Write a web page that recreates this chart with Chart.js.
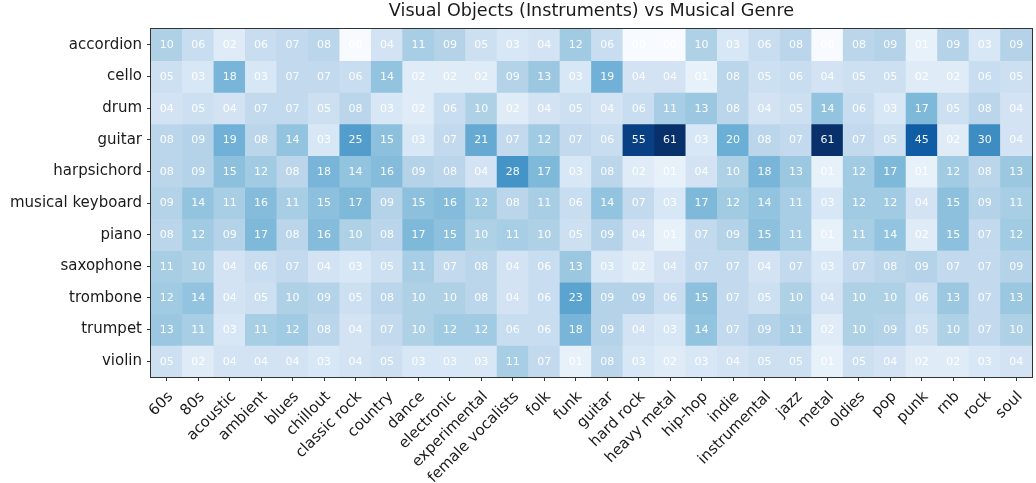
<!DOCTYPE html>
<html><head><meta charset="utf-8">
<script src="https://cdn.jsdelivr.net/npm/chart.js@4/dist/chart.umd.min.js"></script>
<style>html,body{margin:0;padding:0;background:#fff}#wrap{width:1036px;height:483px;position:relative}</style>
</head><body><div id="wrap"><canvas id="c"></canvas></div>
<script>
const chartTitle = 'Visual Objects (Instruments) vs Musical Genre';
const genres = ['60s','80s','acoustic','ambient','blues','chillout','classic rock','country','dance','electronic','experimental','female vocalists','folk','funk','guitar','hard rock','heavy metal','hip-hop','indie','instrumental','jazz','metal','oldies','pop','punk','rnb','rock','soul'];
const instruments = ['accordion','cello','drum','guitar','harpsichord','musical keyboard','piano','saxophone','trombone','trumpet','violin'];

const accordion       = [10,6,2,6,7,8,0,4,11,9,5,3,4,12,6,0,0,10,3,6,8,0,8,9,1,9,3,9];
const cello           = [5,3,18,3,7,7,6,14,2,2,2,9,13,3,19,4,4,1,8,5,6,4,5,5,2,2,6,5];
const drum            = [4,5,4,7,7,5,8,3,2,6,10,2,4,5,4,6,11,13,8,4,5,14,6,3,17,5,8,4];
const guitar          = [8,9,19,8,14,3,25,15,3,7,21,7,12,7,6,55,61,3,20,8,7,61,7,5,45,2,30,4];
const harpsichord     = [8,9,15,12,8,18,14,16,9,8,4,28,17,3,8,2,1,4,10,18,13,1,12,17,1,12,8,13];
const musicalKeyboard = [9,14,11,16,11,15,17,9,15,16,12,8,11,6,14,7,3,17,12,14,11,3,12,12,4,15,9,11];
const piano           = [8,12,9,17,8,16,10,8,17,15,10,11,10,5,9,4,1,7,9,15,11,1,11,14,2,15,7,12];
const saxophone       = [11,10,4,6,7,4,3,5,11,7,8,4,6,13,3,2,4,7,7,4,7,3,7,8,9,7,7,9];
const trombone        = [12,14,4,5,10,9,5,8,10,10,8,4,6,23,9,9,6,15,7,5,10,4,10,10,6,13,7,13];
const trumpet         = [13,11,3,11,12,8,4,7,10,12,12,6,6,18,9,4,3,14,7,9,11,2,10,9,5,10,7,10];
const violin          = [5,2,4,4,4,3,4,5,3,3,3,11,7,1,8,3,2,3,4,5,5,1,5,4,2,2,3,4];

const values = [accordion, cello, drum, guitar, harpsichord, musicalKeyboard, piano, saxophone, trombone, trumpet, violin];

const BLUES = ['#f7fbff','#deebf7','#c6dbef','#9ecae1','#6baed6','#4292c6','#2171b5','#08519c','#08306b'];
function hex(h){return [parseInt(h.slice(1,3),16),parseInt(h.slice(3,5),16),parseInt(h.slice(5,7),16)];}
function blues(t){
  t = Math.max(0, Math.min(1, t));
  const p = t * (BLUES.length - 1);
  const i = Math.min(BLUES.length - 2, Math.floor(p));
  const f = p - i;
  const a = hex(BLUES[i]), b = hex(BLUES[i+1]);
  const c = a.map((v,k)=>Math.round(v + (b[k]-v)*f));
  return 'rgb(' + c.join(',') + ')';
}
const vmax = Math.max(...values.flat());
function cellColor(v){ return blues(Math.pow(v / vmax, 0.62)); }

const FONT = 'DejaVu Sans';
const AXIS_COLOR = '#333333';

const datasets = instruments.map((name, i) => ({
  label: name,
  data: genres.map(() => 1),
  cellValues: values[i],
  backgroundColor: values[i].map(cellColor),
  borderWidth: 0,
  barPercentage: 1,
  categoryPercentage: 1,
  stack: 'heat'
}));

const heatPlugin = {
  id: 'heatPlugin',
  afterDatasetsDraw(chart) {
    const ctx = chart.ctx;
    ctx.save();
    ctx.font = '11px "' + FONT + '"';
    ctx.fillStyle = 'rgba(255,255,255,0.95)';
    ctx.textAlign = 'center';
    ctx.textBaseline = 'middle';
    chart.data.datasets.forEach((ds, di) => {
      const meta = chart.getDatasetMeta(di);
      meta.data.forEach((el, j) => {
        const v = ds.cellValues[j];
        const cy = (el.y + el.base) / 2;
        ctx.fillText(String(v).padStart(2, '0'), el.x, cy + 0.5);
      });
    });
    const a = chart.chartArea;
    ctx.strokeStyle = AXIS_COLOR;
    ctx.lineWidth = 1;
    ctx.strokeRect(Math.round(a.left) - 0.5, Math.round(a.top) - 0.5, Math.round(a.right - a.left) + 1, Math.round(a.bottom - a.top) + 1);
    ctx.restore();
  }
};

new Chart(document.getElementById('c'), {
  type: 'bar',
  data: { labels: genres, datasets },
  options: {
    responsive: true,
    maintainAspectRatio: false,
    animation: false,
    layout: { padding: { left: 0, right: 3, top: 0, bottom: 0 } },
    plugins: {
      legend: { display: false },
      tooltip: { enabled: false },
      title: {
        display: true,
        text: chartTitle,
        fullSize: false,
        color: '#1a1a1a',
        font: { family: FONT, size: 17.6, weight: 'normal', lineHeight: 1.2 },
        padding: { top: 1, bottom: 7 }
      }
    },
    scales: {
      x: {
        type: 'category',
        stacked: true,
        afterFit(axis) { axis.height = 106; },
        grid: { display: true, drawOnChartArea: false, offset: false, tickLength: 4, color: AXIS_COLOR, tickWidth: 1 },
        border: { display: true, color: AXIS_COLOR, width: 1 },
        ticks: { autoSkip: false, maxRotation: 45, minRotation: 45, padding: 7, labelOffset: 4, color: '#1a1a1a', font: { family: FONT, size: 15 } }
      },
      y: {
        type: 'linear',
        stacked: true,
        min: 0,
        max: instruments.length,
        reverse: true,
        afterFit(axis) { axis.width = 151; },
        afterBuildTicks(axis) { axis.ticks = instruments.map((_, i) => ({ value: i + 0.5 })); },
        grid: { display: true, drawOnChartArea: false, tickLength: 4, color: AXIS_COLOR, tickWidth: 1 },
        border: { display: true, color: AXIS_COLOR, width: 1 },
        ticks: {
          padding: 5,
          color: '#1a1a1a',
          font: { family: FONT, size: 15 },
          callback: (v) => instruments[Math.floor(v)]
        }
      }
    }
  },
  plugins: [heatPlugin]
});
</script>
</body></html>
